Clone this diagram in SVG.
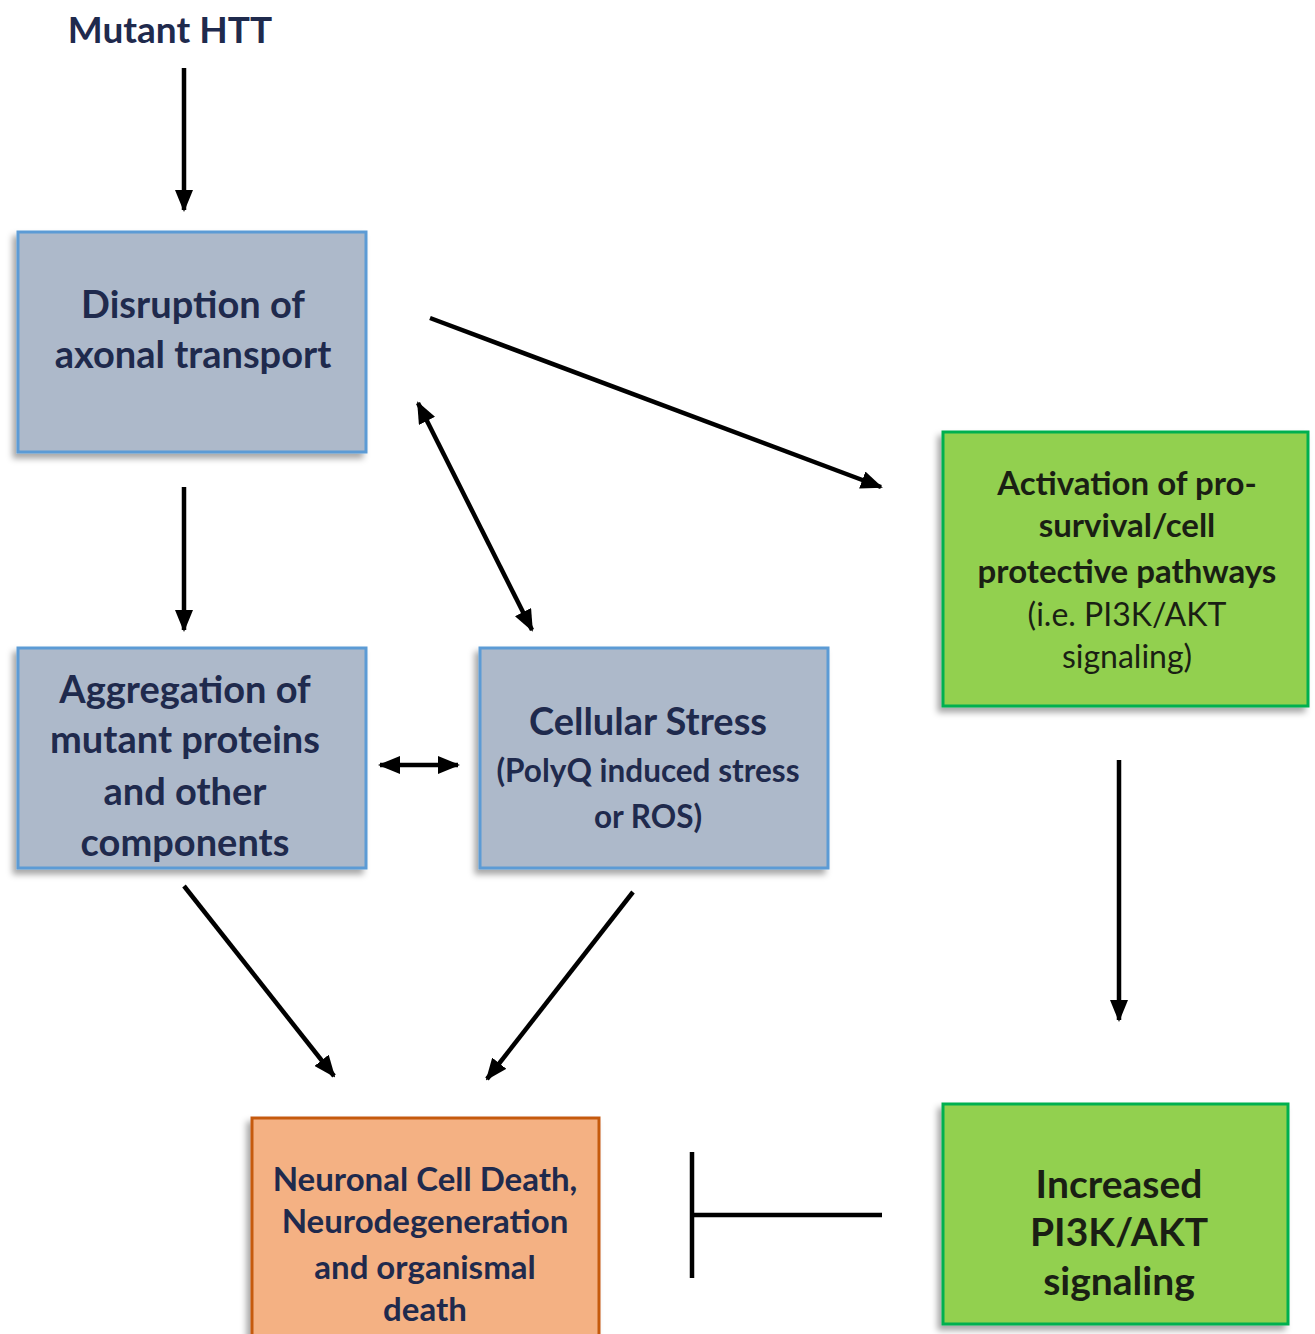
<svg xmlns="http://www.w3.org/2000/svg" width="1315" height="1334" viewBox="0 0 1315 1334">
<style>
.t{font-family:Lato,"Open Sans","Liberation Sans",sans-serif;text-anchor:middle;}
.blue{fill:#adb9ca;stroke:#5b9bd5;stroke-width:3;}
.green{fill:#92d050;stroke:#00b050;stroke-width:3;}
.orange{fill:#f4b183;stroke:#c55a11;stroke-width:3;}
.navy{fill:#1f2a4d;}
.dark{fill:#1a1f14;}
.c{stroke:#000;stroke-width:4.5;fill:none;}
</style>
<defs>
<filter id="sh" x="-10%" y="-10%" width="120%" height="120%">
<feDropShadow dx="-4" dy="5" stdDeviation="3" flood-color="#000" flood-opacity="0.35"/>
</filter>
<marker id="ah" markerUnits="userSpaceOnUse" markerWidth="22" markerHeight="18" refX="20" refY="9" orient="auto-start-reverse">
<path d="M0,0 L22,9 L0,18 z" fill="#000"/>
</marker>
</defs>
<rect width="1315" height="1334" fill="#fff"/>
<g id="n-mutant">
<text class="t navy" x="170" y="43" font-size="37" font-weight="700">Mutant HTT</text>
</g>
<g id="n-disruption">
<rect class="blue" x="18" y="232" width="348" height="220" filter="url(#sh)"/>
<text class="t navy" font-size="38" font-weight="700"><tspan x="193" y="318">Disruption of</tspan><tspan x="193" y="368">axonal transport</tspan></text>
</g>
<g id="n-aggregation">
<rect class="blue" x="18" y="648" width="348" height="220" filter="url(#sh)"/>
<text class="t navy" font-size="38" font-weight="700"><tspan x="185" y="703">Aggregation of</tspan><tspan x="185" y="753">mutant proteins</tspan><tspan x="185" y="805">and other</tspan><tspan x="185" y="856">components</tspan></text>
</g>
<g id="n-stress">
<rect class="blue" x="480" y="648" width="348" height="220" filter="url(#sh)"/>
<text class="t navy" font-weight="700"><tspan x="648" y="735" font-size="38">Cellular Stress</tspan><tspan x="648" y="782" font-size="31.5">(PolyQ induced stress</tspan><tspan x="648" y="828" font-size="31.5">or ROS)</tspan></text>
</g>
<g id="n-activation">
<rect class="green" x="943" y="432" width="365" height="274" filter="url(#sh)"/>
<text class="t dark" font-size="33" font-weight="700"><tspan x="1127" y="495">Activation of pro-</tspan><tspan x="1127" y="537">survival/cell</tspan><tspan x="1127" y="583">protective pathways</tspan><tspan x="1127" y="626" font-size="32" font-weight="400">(i.e. PI3K/AKT</tspan><tspan x="1127" y="668" font-size="32" font-weight="400">signaling)</tspan></text>
</g>
<g id="n-increased">
<rect class="green" x="943" y="1104" width="345" height="220" filter="url(#sh)"/>
<text class="t dark" font-size="39" font-weight="700"><tspan x="1119" y="1198">Increased</tspan><tspan x="1119" y="1246">PI3K/AKT</tspan><tspan x="1119" y="1295">signaling</tspan></text>
</g>
<g id="n-death">
<rect class="orange" x="252" y="1118" width="347" height="230" filter="url(#sh)"/>
<text class="t navy" font-size="33" font-weight="700"><tspan x="425" y="1191">Neuronal Cell Death,</tspan><tspan x="425" y="1233">Neurodegeneration</tspan><tspan x="425" y="1279">and organismal</tspan><tspan x="425" y="1321">death</tspan></text>
</g>
<g id="connectors">
<line class="c" x1="184" y1="68" x2="184" y2="210" marker-end="url(#ah)"/>
<line class="c" x1="184" y1="487" x2="184" y2="630" marker-end="url(#ah)"/>
<line class="c" x1="418" y1="403" x2="532" y2="630" marker-start="url(#ah)" marker-end="url(#ah)"/>
<line class="c" x1="380" y1="765" x2="458" y2="765" marker-start="url(#ah)" marker-end="url(#ah)"/>
<line class="c" x1="430" y1="318" x2="881" y2="487" marker-end="url(#ah)"/>
<line class="c" x1="1119" y1="760" x2="1119" y2="1020" marker-end="url(#ah)"/>
<line class="c" x1="184" y1="886" x2="334" y2="1076" marker-end="url(#ah)"/>
<line class="c" x1="633" y1="892" x2="487" y2="1079" marker-end="url(#ah)"/>
<line class="c" x1="692" y1="1215" x2="882" y2="1215"/>
<line class="c" x1="692" y1="1152" x2="692" y2="1278"/>
</g>
</svg>
